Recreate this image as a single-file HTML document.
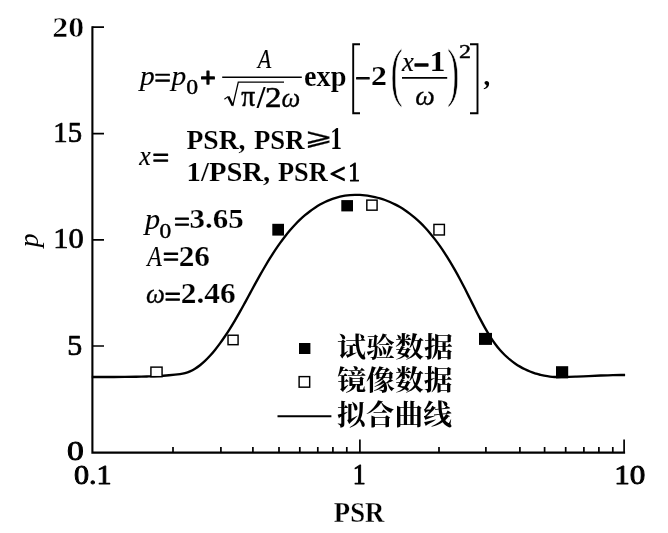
<!DOCTYPE html>
<html lang="zh"><head><meta charset="utf-8"><title>PSR fitting curve</title>
<style>
html,body{margin:0;padding:0;background:#fff}
svg{display:block}
text{font-family:"Liberation Serif",serif;fill:#000}
text.cjk{font-family:"Noto Serif CJK SC","Liberation Serif",serif}
text.djv{font-family:"DejaVu Sans",sans-serif}
</style></head><body>
<svg width="668" height="533" viewBox="0 0 668 533">
<rect width="668" height="533" fill="#fff"/>
<text transform="translate(390.62 93.93) scale(0.57 1)" font-size="65.11" stroke="#fff" stroke-width="0.9">(</text>
<text transform="translate(446.89 93.93) scale(0.57 1)" font-size="65.11" stroke="#fff" stroke-width="0.9">)</text>
<path d="M92.4 26.2V452.6H625.1" fill="none" stroke="#000" stroke-width="2.1" stroke-linejoin="miter"/>
<path d="M173 452.6V447M220.9 452.6V447M252.9 452.6V447M279 452.6V447M299.8 452.6V447M317.8 452.6V447M332.9 452.6V447M346.8 452.6V447M439 452.6V447M485.9 452.6V447M519.9 452.6V447M544.6 452.6V447M565.7 452.6V447M583.9 452.6V447M598.9 452.6V447M612.8 452.6V447M359.9 452.6V439.6M624.1 452.6V439.6M92.4 27.2H104M92.4 133.6H104M92.4 239.8H104M92.4 346.0H104" fill="none" stroke="#000" stroke-width="1.7"/>
<path d="M91.8 377C93.64 377 99.15 377 102.83 377C106.5 377 110.17 377.01 113.85 377C117.52 376.99 121.2 376.99 124.88 376.94C128.55 376.9 132.22 376.81 135.9 376.73C139.58 376.66 143.25 376.58 146.93 376.47C150.6 376.36 154.27 376.27 157.95 376.06C161.62 375.86 165.3 375.59 168.97 375.26C172.65 374.93 177.33 374.44 180 374.08C182.67 373.73 183.33 373.58 185 373.13C186.67 372.69 188.33 372.14 190 371.41C191.67 370.69 193.33 369.82 195 368.79C196.67 367.77 198.33 366.59 200 365.27C201.67 363.96 203.33 362.5 205 360.92C206.67 359.34 208.33 357.62 210 355.79C211.67 353.96 213.33 352 215 349.94C216.67 347.88 218.33 345.7 220 343.42C221.67 341.15 223.33 338.76 225 336.28C226.67 333.81 228.33 331.23 230 328.57C231.67 325.91 233.33 323.15 235 320.33C236.67 317.5 238.33 314.58 240 311.62C241.67 308.66 243.33 305.61 245 302.57C246.67 299.53 248.33 296.43 250 293.36C251.67 290.3 253.33 287.21 255 284.18C256.67 281.15 258.33 278.13 260 275.18C261.67 272.24 263.33 269.34 265 266.51C266.67 263.69 268.33 260.91 270 258.23C271.67 255.55 273.33 252.93 275 250.41C276.67 247.89 278.33 245.45 280 243.12C281.67 240.79 283.33 238.55 285 236.42C286.67 234.28 288.33 232.24 290 230.29C291.67 228.34 293.33 226.49 295 224.73C296.67 222.96 298.33 221.29 300 219.7C301.67 218.11 303.33 216.61 305 215.2C306.67 213.78 308.33 212.45 310 211.19C311.67 209.94 313.33 208.76 315 207.67C316.67 206.57 318.33 205.55 320 204.6C321.67 203.66 323.33 202.79 325 201.99C326.67 201.19 328.33 200.47 330 199.81C331.67 199.15 333.33 198.56 335 198.04C336.67 197.52 338.33 197.07 340 196.68C341.67 196.29 343.33 195.97 345 195.7C346.67 195.44 348.33 195.24 350 195.09C351.67 194.95 353.33 194.87 355 194.84C356.67 194.81 358.33 194.85 360 194.93C361.67 195.01 363.33 195.15 365 195.34C366.67 195.53 368.33 195.77 370 196.06C371.67 196.35 373.33 196.69 375 197.07C376.67 197.46 378.33 197.89 380 198.38C381.67 198.87 383.33 199.41 385 200.01C386.67 200.61 388.33 201.27 390 201.99C391.67 202.71 393.33 203.48 395 204.33C396.67 205.18 398.33 206.09 400 207.07C401.67 208.05 403.33 209.1 405 210.23C406.67 211.35 408.33 212.55 410 213.83C411.67 215.11 413.33 216.46 415 217.9C416.67 219.34 418.33 220.86 420 222.47C421.67 224.07 423.33 225.77 425 227.55C426.67 229.34 428.33 231.21 430 233.18C431.67 235.15 433.33 237.22 435 239.38C436.67 241.55 438.33 243.81 440 246.18C441.67 248.54 443.33 251.02 445 253.58C446.67 256.15 448.33 258.82 450 261.58C451.67 264.34 453.33 267.2 455 270.14C456.67 273.08 458.33 276.11 460 279.22C461.67 282.34 463.33 285.55 465 288.81C466.67 292.07 468.33 295.44 470 298.78C471.67 302.11 473.33 305.51 475 308.82C476.67 312.14 478.33 315.46 480 318.64C481.67 321.82 483.33 324.96 485 327.91C486.67 330.86 488.33 333.71 490 336.35C491.67 339 493.33 341.5 495 343.79C496.67 346.07 498.33 348.15 500 350.06C501.67 351.97 503.33 353.66 505 355.26C506.67 356.86 508.33 358.3 510 359.66C511.67 361.02 513.33 362.27 515 363.43C516.67 364.59 518.33 365.65 520 366.63C521.67 367.6 523.33 368.49 525 369.3C526.67 370.11 528.33 370.83 530 371.5C531.67 372.16 533.33 372.73 535 373.27C536.67 373.81 537.14 374.15 540 374.74C542.86 375.33 548.1 376.44 552.16 376.8C556.21 377.15 560.26 376.92 564.31 376.88C568.37 376.84 572.42 376.7 576.47 376.57C580.52 376.44 584.58 376.26 588.63 376.08C592.68 375.9 596.73 375.64 600.79 375.47C604.84 375.3 608.89 375.13 612.94 375.05C617 374.97 623.07 375.01 625.1 375" fill="none" stroke="#000" stroke-width="2.35" stroke-linecap="butt"/>
<rect x="272.3" y="223.8" width="11.7" height="11.8" fill="#000"/>
<rect x="341.3" y="200.1" width="11.7" height="11.3" fill="#000"/>
<rect x="479.0" y="332.9" width="13.0" height="12.0" fill="#000"/>
<rect x="556.0" y="366.2" width="12.2" height="12.2" fill="#000"/>
<rect x="299.0" y="343.0" width="11.4" height="11.0" fill="#000"/>
<rect x="150.92" y="367.12" width="11.15" height="9.55" fill="#fff" stroke="#000" stroke-width="1.45"/>
<rect x="228.03" y="335.23" width="10.05" height="9.45" fill="#fff" stroke="#000" stroke-width="1.45"/>
<rect x="366.83" y="200.12" width="10.25" height="10.05" fill="#fff" stroke="#000" stroke-width="1.45"/>
<rect x="433.93" y="224.42" width="10.45" height="10.55" fill="#fff" stroke="#000" stroke-width="1.45"/>
<rect x="299.12" y="376.62" width="10.55" height="10.55" fill="#fff" stroke="#000" stroke-width="1.45"/>
<path d="M277.5 416.3H331.4" stroke="#000" stroke-width="2"/>
<path d="M222.2 77.3H301.8" stroke="#000" stroke-width="1.4"/>
<path d="M402 77.9H447.2" stroke="#000" stroke-width="1.8"/>
<path d="M224.4 99.2L228.3 96.4" stroke="#000" stroke-width="1.1" fill="none"/>
<path d="M228.3 96.6L232.6 105.4" stroke="#000" stroke-width="2.4" fill="none"/>
<path d="M232.7 106.2L238.3 82.2H284" stroke="#000" stroke-width="1.3" fill="none" stroke-linejoin="miter"/>
<path d="M360 44.3H353.2V113.2H360" stroke="#000" stroke-width="1.9" fill="none"/>
<path d="M470 44.3H477.5V113.2H470" stroke="#000" stroke-width="1.9" fill="none"/>
<text transform="translate(52.23 36.61) scale(1.08 1)" font-size="29.48" font-weight="bold" stroke="#fff" stroke-width="0.5">20</text>
<text transform="translate(53.35 142.25) scale(0.97 1)" font-size="29.62" stroke="#000" stroke-width="0.7" stroke-linejoin="round">15</text>
<text transform="translate(53.2 248.27) scale(1.07 1)" font-size="28.44" stroke="#000" stroke-width="0.7" stroke-linejoin="round">10</text>
<text transform="translate(67.25 354.56) scale(1.02 1)" font-size="29.32" stroke="#000" stroke-width="0.7" stroke-linejoin="round">5</text>
<text transform="translate(67.11 460.27) scale(1.22 1)" font-size="27.56" stroke="#000" stroke-width="0.9" stroke-linejoin="round">0</text>
<text transform="translate(73.94 483.94) scale(1.11 1)" font-size="27.21" stroke="#000" stroke-width="0.9" stroke-linejoin="round">0.1</text>
<text transform="translate(352.79 484.3) scale(0.91 1)" font-size="28.4" stroke="#000" stroke-width="1.0" stroke-linejoin="round">1</text>
<text transform="translate(614.14 484.17) scale(1.13 1)" font-size="27.56" stroke="#000" stroke-width="0.9" stroke-linejoin="round">10</text>
<text transform="translate(333.8 521.8) scale(0.9 1)" font-size="29.7" font-weight="bold" stroke="#fff" stroke-width="0.3">PSR</text>
<text transform="translate(140.05 84.94) scale(1.05 1)" font-size="28.01" font-style="italic" stroke="#000" stroke-width="0.15" stroke-linejoin="round">p</text>
<text transform="translate(154.27 88.19)" font-size="29.68" stroke="#000" stroke-width="0.7" stroke-linejoin="round">=</text>
<text transform="translate(171.54 84.94) scale(1.05 1)" font-size="28.01" font-style="italic" stroke="#000" stroke-width="0.15" stroke-linejoin="round">p</text>
<text transform="translate(186.28 94.36) scale(1.1 1)" font-size="21.56" stroke="#000" stroke-width="0.45" stroke-linejoin="round">0</text>
<text transform="translate(200.26 87.01)" font-size="27.1" font-weight="bold" stroke="#000" stroke-width="1.3" stroke-linejoin="round">+</text>
<text transform="translate(257.69 68.33) scale(0.84 1)" font-size="26.34" font-style="italic" stroke="#000" stroke-width="0.15" stroke-linejoin="round">A</text>
<text transform="translate(241.24 105.65) scale(0.91 1)" font-size="30.32" stroke="#000" stroke-width="0.5" stroke-linejoin="round">π</text>
<text transform="translate(256.71 107.68) scale(0.98 1)" font-size="31.88" font-weight="bold">/</text>
<text transform="translate(265.01 107) scale(1.14 1)" font-size="28.94" stroke="#000" stroke-width="0.6" stroke-linejoin="round">2</text>
<text transform="translate(281.62 107.38) scale(0.97 1)" font-size="27.37" font-style="italic" stroke="#000" stroke-width="0.3" stroke-linejoin="round">ω</text>
<text transform="translate(303.91 85.53) scale(0.98 1)" font-size="28.91" font-weight="bold" stroke="#fff" stroke-width="0.15">exp</text>
<text transform="translate(355.25 86.54)" font-size="27.1" stroke="#000" stroke-width="1.0" stroke-linejoin="round">−</text>
<text transform="translate(370.93 84.7) scale(1.14 1)" font-size="27.88" font-weight="bold" stroke="#fff" stroke-width="0.1">2</text>
<text transform="translate(401.97 71.2) scale(0.97 1)" font-size="27.47" font-style="italic" stroke="#000" stroke-width="0.2" stroke-linejoin="round">x</text>
<text transform="translate(413.65 73.91)" font-size="27.31" font-weight="bold" stroke="#000" stroke-width="1.5" stroke-linejoin="round">−</text>
<text transform="translate(429.71 71.4) scale(1.09 1)" font-size="28.55" font-weight="bold">1</text>
<text transform="translate(415.18 105.38) scale(1.02 1)" font-size="27.16" font-style="italic" stroke="#000" stroke-width="0.3" stroke-linejoin="round">ω</text>
<text transform="translate(459.02 57.9) scale(1.32 1)" font-size="18.18" stroke="#000" stroke-width="0.4" stroke-linejoin="round">2</text>
<text transform="translate(483.4 85.41) scale(0.96 1)" font-size="27.67" font-weight="bold">,</text>
<text transform="translate(139.36 164.9) scale(0.94 1)" font-size="27.47" font-style="italic" stroke="#000" stroke-width="0.2" stroke-linejoin="round">x</text>
<text transform="translate(152.19 167.84)" font-size="30.11" stroke="#000" stroke-width="0.8" stroke-linejoin="round">=</text>
<text transform="translate(186.39 148.62) scale(0.98 1)" font-size="28.21" font-weight="bold" stroke="#fff" stroke-width="0.15">PSR,</text>
<text transform="translate(253.9 148.62) scale(0.95 1)" font-size="28.21" font-weight="bold" stroke="#fff" stroke-width="0.15">PSR</text>
<text transform="translate(304.54 144.99) scale(1.45 1)" font-size="23.43" class="djv" stroke="#000" stroke-width="0.2" stroke-linejoin="round">⩾</text>
<text transform="translate(330.22 148.8) scale(0.77 1)" font-size="30.53" font-weight="bold" stroke="#fff" stroke-width="0.15">1</text>
<text transform="translate(186.61 181.22) scale(1.01 1)" font-size="28.36" font-weight="bold" stroke="#fff" stroke-width="0.15">1/PSR,</text>
<text transform="translate(278 181.22) scale(0.93 1)" font-size="28.36" font-weight="bold" stroke="#fff" stroke-width="0.15">PSR</text>
<text transform="translate(329.75 183.3) scale(0.99 1)" font-size="28.33" stroke="#000" stroke-width="1.3" stroke-linejoin="round">&lt;</text>
<text transform="translate(348.32 181.05) scale(0.84 1)" font-size="28.09" stroke="#000" stroke-width="0.9" stroke-linejoin="round">1</text>
<text transform="translate(144.98 228.89) scale(1.05 1)" font-size="28.75" font-style="italic" stroke="#000" stroke-width="0.15" stroke-linejoin="round">p</text>
<text transform="translate(159.59 238.16) scale(1.1 1)" font-size="21.26" stroke="#000" stroke-width="0.45" stroke-linejoin="round">0</text>
<text transform="translate(173.94 231.2)" font-size="28.17" stroke="#000" stroke-width="0.9" stroke-linejoin="round">=</text>
<text transform="translate(189.47 227.99) scale(1.13 1)" font-size="27.41" font-weight="bold" stroke="#fff" stroke-width="0.2">3.65</text>
<text transform="translate(147.18 265.53) scale(0.83 1)" font-size="28.78" font-style="italic" stroke="#000" stroke-width="0.15" stroke-linejoin="round">A</text>
<text transform="translate(162.7 267.18)" font-size="29.03" stroke="#000" stroke-width="0.9" stroke-linejoin="round">=</text>
<text transform="translate(178.65 265.51) scale(1.08 1)" font-size="28.96" font-weight="bold" stroke="#fff" stroke-width="0.2">26</text>
<text transform="translate(145.91 303.37) scale(0.95 1)" font-size="28.21" font-style="italic" stroke="#000" stroke-width="0.3" stroke-linejoin="round">ω</text>
<text transform="translate(164.5 307.08)" font-size="29.03" stroke="#000" stroke-width="0.9" stroke-linejoin="round">=</text>
<text transform="translate(180.85 303.37) scale(1.09 1)" font-size="28.74" font-weight="bold" stroke="#fff" stroke-width="0.2">2.46</text>
<text transform="translate(337.08 357.08) scale(1.05 1)" font-size="27.62" font-weight="bold" class="cjk">试验数据</text>
<text transform="translate(337.22 390.11) scale(1.06 1)" font-size="27.23" font-weight="bold" class="cjk">镜像数据</text>
<text transform="translate(337.08 424.55) scale(1.03 1)" font-size="27.89" font-weight="bold" class="cjk">拟合曲线</text>
<text transform="translate(38.1 247.3) rotate(-90)" font-size="27.6" font-style="italic">p</text>
</svg>
</body></html>
